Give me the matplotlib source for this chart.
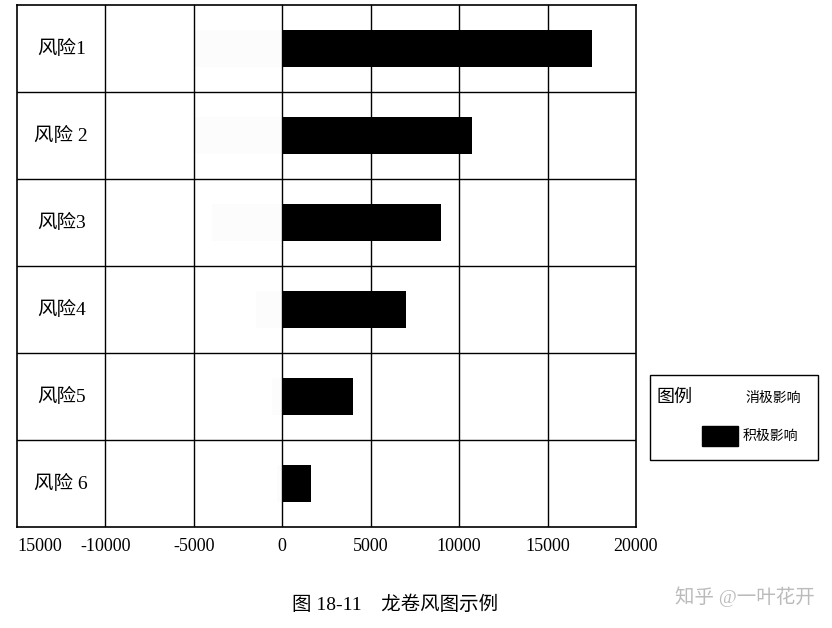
import matplotlib
matplotlib.use("Agg")
import matplotlib.pyplot as plt
from matplotlib.patches import Rectangle

plt.rcParams['font.family'] = ['Liberation Serif', 'Noto Sans CJK SC', 'DejaVu Sans']

risks = ["风险1", "风险 2", "风险3", "风险4", "风险5", "风险 6"]
positive = [17500, 10700, 9000, 7000, 4000, 1600]
negative = [-5000, -5000, -4000, -1500, -600, -300]
xticks = [-15000, -10000, -5000, 0, 5000, 10000, 15000, 20000]
xticklabels = ["15000", "-10000", "-5000", "0", "5000", "10000", "15000", "20000"]

fig = plt.figure(figsize=(8.32, 6.28), dpi=100)
ax = fig.add_axes([17/832, 1-527/628, (636-17)/832, (527-5)/628])
n = len(risks)
ypos = list(range(n))[::-1]
ax.barh(ypos, negative, height=0.42, color='#fcfcfc', zorder=0.5)
ax.barh(ypos, positive, height=0.42, color='black', zorder=3)
ax.set_xlim(-15000, 20000)
ax.set_ylim(-0.5, n-0.5)
ax.set_xticks(xticks)
ax.set_xticklabels(xticklabels, fontsize=13)
ax.get_xticklabels()[0].set_ha('left')
ax.get_xticklabels()[0].set_x(-15600)
ax.tick_params(axis='x', length=0, pad=8)
ax.set_yticks([])
for x in xticks[1:-1]:
    ax.axvline(x, color='black', lw=1, zorder=1)
for i in range(n-1):
    ax.axhline(i+0.5, color='black', lw=1, zorder=1)
for y, r in zip(ypos, risks):
    ax.text(-12500, y, r, ha='center', va='center', fontsize=14)
for s in ax.spines.values():
    s.set_linewidth(1.2)

# legend
lx, ly, lw, lh = 650/832, 1-460/628, 168/832, 85/628
fig.patches.append(Rectangle((lx, ly), lw, lh, transform=fig.transFigure, fill=False, ec='black', lw=1))
fig.text(656/832, 1-397/628, "图例", fontsize=13, va='center', ha='left')
fig.text(745/832, 1-398/628, "消极影响", fontsize=10, va='center', ha='left')
fig.patches.append(Rectangle((702/832, 1-446/628), 36/832, 20/628, transform=fig.transFigure, color='black'))
fig.text(743/832, 1-436/628, "积极影响", fontsize=10, va='center', ha='left')

fig.text(395/832, 1-605/628, "图 18-11    龙卷风图示例", fontsize=14, ha='center', va='center')
fig.text(745/832, 1-597/628, "知乎 @一叶花开", fontsize=14, ha='center', va='center', color='#bbbbbb')

fig.savefig("out.png", dpi=100, facecolor='white')
